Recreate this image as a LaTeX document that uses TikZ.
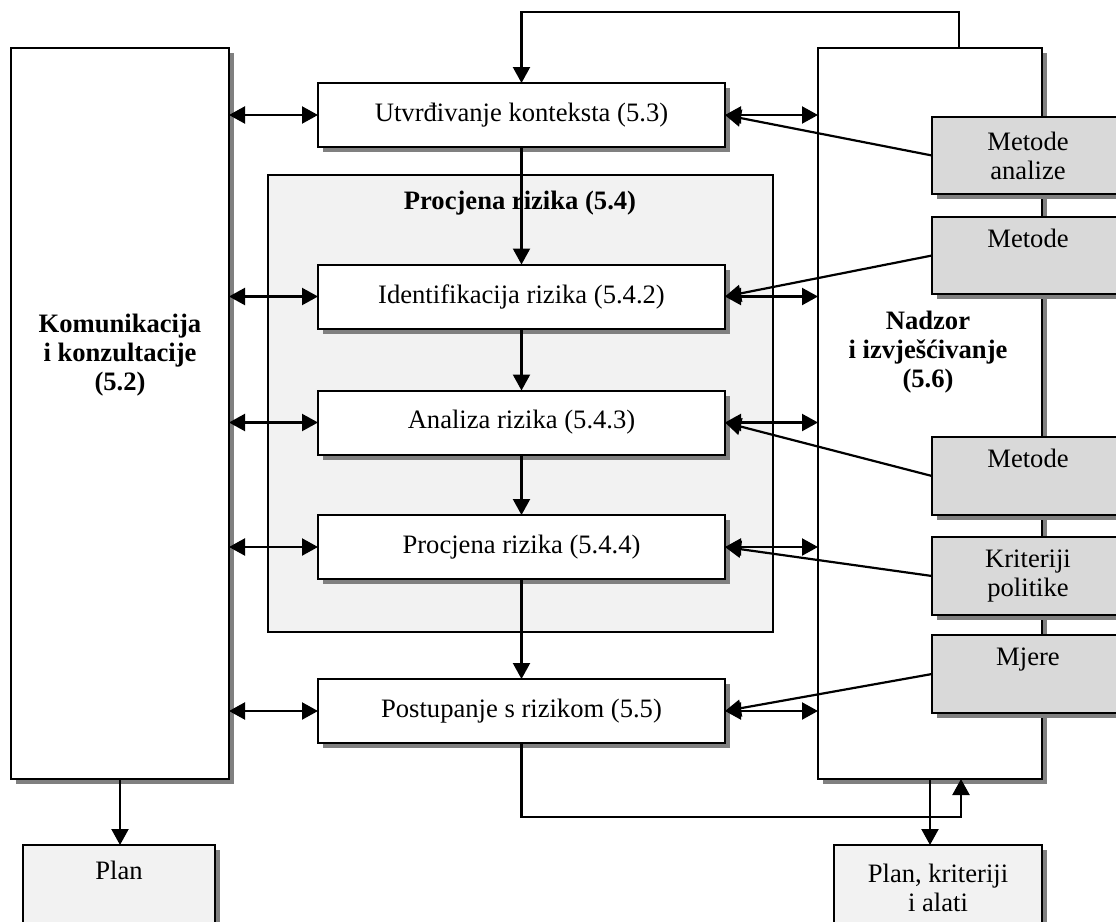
\documentclass[tikz,border=0pt]{standalone}
\usepackage{fontspec}
\setmainfont{Liberation Serif}
\usetikzlibrary{arrows.meta,shadows}
\definecolor{shd}{HTML}{808080}
\definecolor{lgray}{HTML}{F2F2F2}
\definecolor{mgray}{HTML}{D9D9D9}
\begin{document}
\begin{tikzpicture}[x=0.5pt,y=-0.5pt,
  every node/.style={inner sep=0pt,outer sep=0pt},
  txt/.style={font=\fontsize{13.3}{14.6}\selectfont},
  btxt/.style={font=\fontsize{13.3}{14.6}\selectfont\bfseries,align=center},
  sh/.style={drop shadow={shadow xshift=2.5pt,shadow yshift=-2.5pt,fill=shd,opacity=1}},
  frame/.style={draw,line width=1pt},
  wbox/.style={frame,fill=white,sh,txt,align=center,minimum width=203.5pt,minimum height=32pt},
  bigbox/.style={frame,fill=white,sh,minimum height=365.5pt},
  region/.style={frame,fill=lgray,minimum width=252.5pt,minimum height=228.5pt},
  gbox/.style={frame,fill=mgray,sh,txt,align=center,minimum width=96pt},
  pbox/.style={frame,fill=lgray,sh,txt,align=center,minimum height=43pt},
  tip/.tip={Triangle[length=8pt,width=8.5pt]},
  arr/.style={line width=1.1pt,-tip},
  darr/.style={line width=1.1pt,tip-tip}
]
\clip (0,0) rectangle (1116,922);
% assessment region
\node[region] (reg) at (520.5,403.5) {};
\node[btxt] (regt) at (520,203) {Procjena rizika (5.4)};
% side columns
\node[bigbox,minimum width=109pt] (kom) at (120,413.5) {};
\node[bigbox,minimum width=112pt] (nad) at (930,413.5) {};
\node[btxt] (komt) at (120,355) {Komunikacija\\i konzultacije\\(5.2)};
\node[btxt] (nadt) at (928,352) {Nadzor\\i izvješćivanje\\(5.6)};
% method boxes
\node[gbox,minimum height=38.5pt] (ma) at (1028,155.5) {Metode\\analize};
\node[gbox,minimum height=38.5pt] (m2) at (1028,255.5) {Metode\\\phantom{g}};
\node[gbox,minimum height=39pt] (m3) at (1028,476) {Metode\\\phantom{g}};
\node[gbox,minimum height=39pt] (kp) at (1028,576) {Kriteriji\\politike};
\node[gbox,minimum height=39pt] (mj) at (1028,674) {Mjere\\\phantom{g}};
% process boxes
\node[wbox] (utv) at (521.5,115) {Utvrđivanje konteksta (5.3)};
\node[wbox] (ide) at (521.5,296.5) {Identifikacija rizika (5.4.2)};
\node[wbox] (ana) at (521.5,422.5) {Analiza rizika (5.4.3)};
\node[wbox] (pro) at (521.5,547) {Procjena rizika (5.4.4)};
\node[wbox] (pos) at (521.5,711) {Postupanje s rizikom (5.5)};
% bottom boxes
\node[pbox,minimum width=96pt] (plan) at (119,888) {Plan\\\phantom{g}};
\node[pbox,minimum width=104pt] (pkl) at (938,888) {Plan, kriteriji\\i alati};
% vertical flow
\draw[arr] (utv) -- (ide);
\draw[arr] (ide) -- (ana);
\draw[arr] (ana) -- (pro);
\draw[arr] (pro) -- (pos);
% double arrows
\foreach \b in {utv,ide,ana,pro,pos}{
  \draw[darr] (kom.east |- \b.west) -- (\b.west);
  \draw[darr] (\b.east) -- (\b.east -| nad.west);
}
% method connectors
\draw[arr] (ma.west) -- (utv.east);
\draw[arr] (m2.west) -- (ide.east);
\draw[arr] (m3.west) -- (ana.east);
\draw[arr] (kp.west) -- (pro.east);
\draw[arr] (mj.west) -- (pos.east);
% top loop
\coordinate (tl) at (959,12);
\draw[arr] (nad.north -| tl) -- (tl) -- (tl -| utv.north) -- (utv.north);
% bottom loop
\coordinate (bl) at (961,817);
\draw[arr] (pos.south) -- (pos.south |- bl) -- (bl) -- (bl |- nad.south);
\draw[arr] (nad.south) -- (nad.south |- pkl.north);
\draw[arr] (kom.south) -- (kom.south |- plan.north);
\end{tikzpicture}
\end{document}
